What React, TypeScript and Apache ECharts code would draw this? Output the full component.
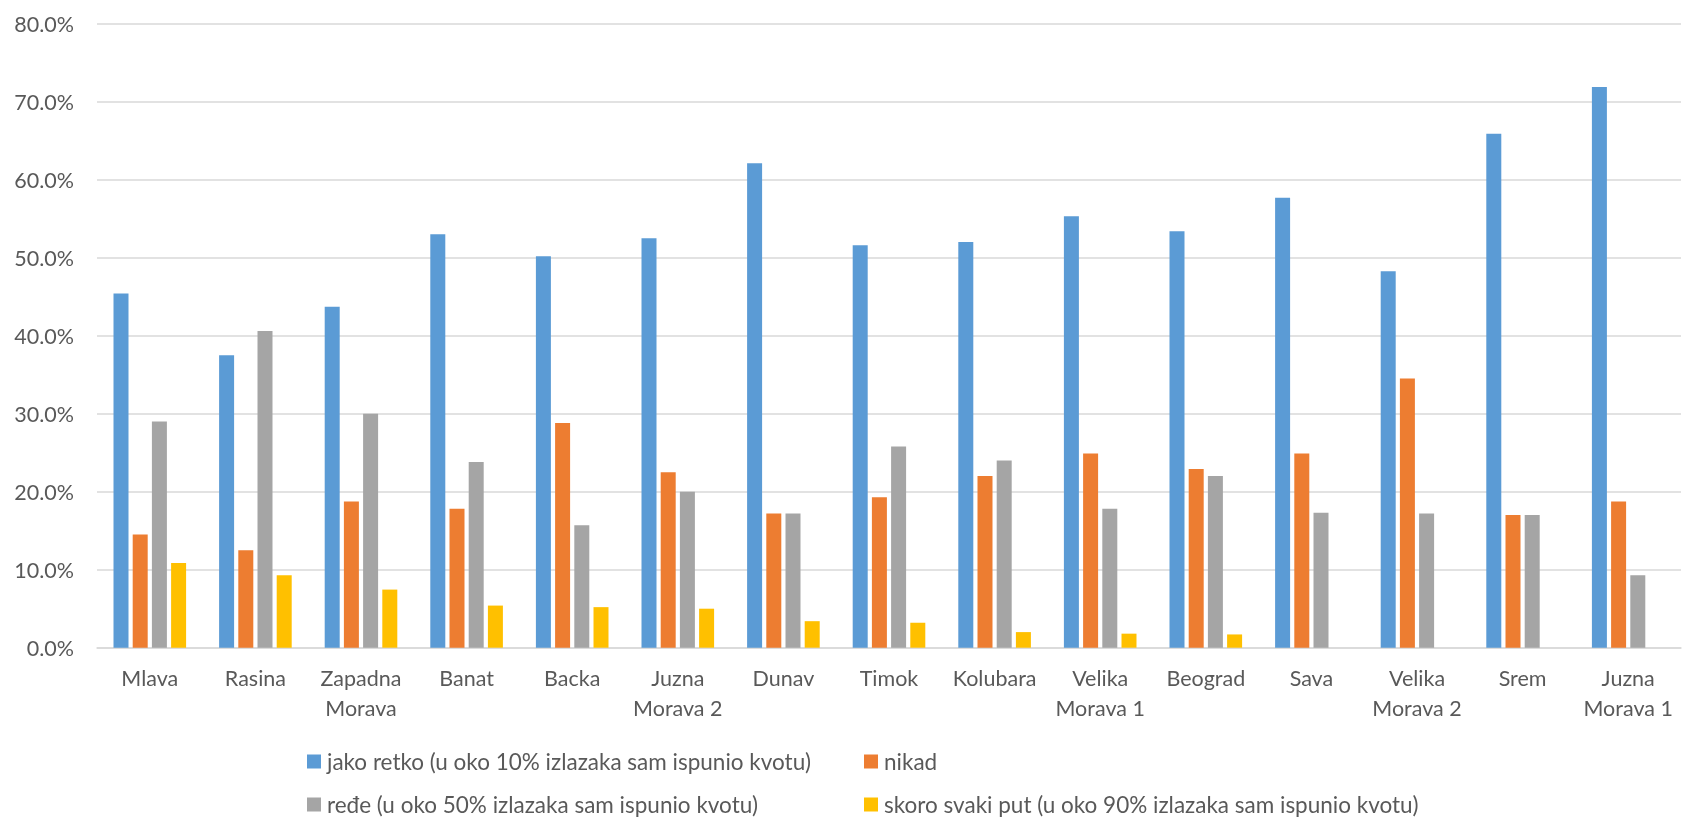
import React, { useEffect, useRef } from "react";
import * as echarts from "echarts";

const categories = [
  "Mlava", "Rasina", "Zapadna\nMorava", "Banat", "Backa", "Juzna\nMorava 2", "Dunav",
  "Timok", "Kolubara", "Velika\nMorava 1", "Beograd", "Sava", "Velika\nMorava 2", "Srem", "Juzna\nMorava 1",
];

const seriesNames = [
  "jako retko (u oko 10% izlazaka sam ispunio kvotu)",
  "nikad",
  "ređe (u oko 50% izlazaka sam ispunio kvotu)",
  "skoro svaki put (u oko 90% izlazaka sam ispunio kvotu)",
];

const jakoRetko = [45.4, 37.5, 43.7, 53.0, 50.2, 52.5, 62.1, 51.6, 52.0, 55.3, 53.4, 57.7, 48.25, 65.9, 71.9];
const nikad = [14.5, 12.5, 18.75, 17.8, 28.8, 22.5, 17.2, 19.3, 22.0, 24.9, 22.9, 24.9, 34.5, 17.0, 18.75];
const rede = [29.0, 40.6, 30.0, 23.8, 15.7, 20.0, 17.2, 25.8, 24.0, 17.8, 22.0, 17.3, 17.2, 17.0, 9.3];
const skoroSvaki = [10.85, 9.3, 7.45, 5.4, 5.2, 5.0, 3.4, 3.2, 2.0, 1.8, 1.7, 0, 0, 0, 0];

const colors = ["#5b9bd5", "#ed7d31", "#a5a5a5", "#ffc000"];
const FONT = "Lato";
const TEXT_COLOR = "#595959";

export default function App() {
  const ref = useRef<HTMLDivElement>(null);
  useEffect(() => {
    document.body.style.margin = "0";
    const chart = echarts.init(ref.current!, null, { renderer: "svg" });
    const data = [jakoRetko, nikad, rede, skoroSvaki];
    const legendText = {
      color: TEXT_COLOR,
      fontFamily: FONT,
      fontSize: 22.5,
      lineHeight: 20,
      padding: [0, 0, 0, 1],
    };
    const legendBase = {
      orient: "horizontal",
      padding: 0,
      itemWidth: 14,
      itemHeight: 14,
      icon: "rect",
      selectedMode: false,
      textStyle: legendText,
    };
    // [series index, left, top]
    const legendSlots: [number, number, number][] = [
      [0, 307, 750],
      [1, 864, 750],
      [2, 307, 793],
      [3, 864, 793],
    ];
    chart.setOption({
      animation: false,
      color: colors,
      grid: { left: 97, right: 1, top: 23.7, bottom: 170.3, containLabel: false },
      legend: legendSlots.map(([i, left, top]) => ({
        ...legendBase,
        left,
        top,
        data: [seriesNames[i]],
      })),
      xAxis: {
        type: "category",
        data: categories,
        axisTick: { show: false },
        axisLine: { lineStyle: { color: "#d9d9d9", width: 1.5 } },
        axisLabel: {
          color: TEXT_COLOR,
          fontFamily: FONT,
          fontSize: 21.5,
          lineHeight: 30,
          margin: 15,
          interval: 0,
        },
      },
      yAxis: {
        type: "value",
        min: 0,
        max: 80,
        interval: 10,
        axisLine: { show: false },
        axisTick: { show: false },
        splitLine: { lineStyle: { color: "#d9d9d9", width: 1.5 } },
        axisLabel: {
          color: TEXT_COLOR,
          fontFamily: FONT,
          fontSize: 21.5,
          margin: 23,
          formatter: (v: number) => v.toFixed(1) + "%",
        },
      },
      series: seriesNames.map((name, i) => ({
        name,
        type: "bar",
        data: data[i],
        barWidth: 15,
        barGap: "28%",
        itemStyle: { color: colors[i] },
      })),
    });
    return () => chart.dispose();
  }, []);
  return <div ref={ref} style={{ position: "fixed", left: 0, top: 0, width: 1682, height: 818 }} />;
}
